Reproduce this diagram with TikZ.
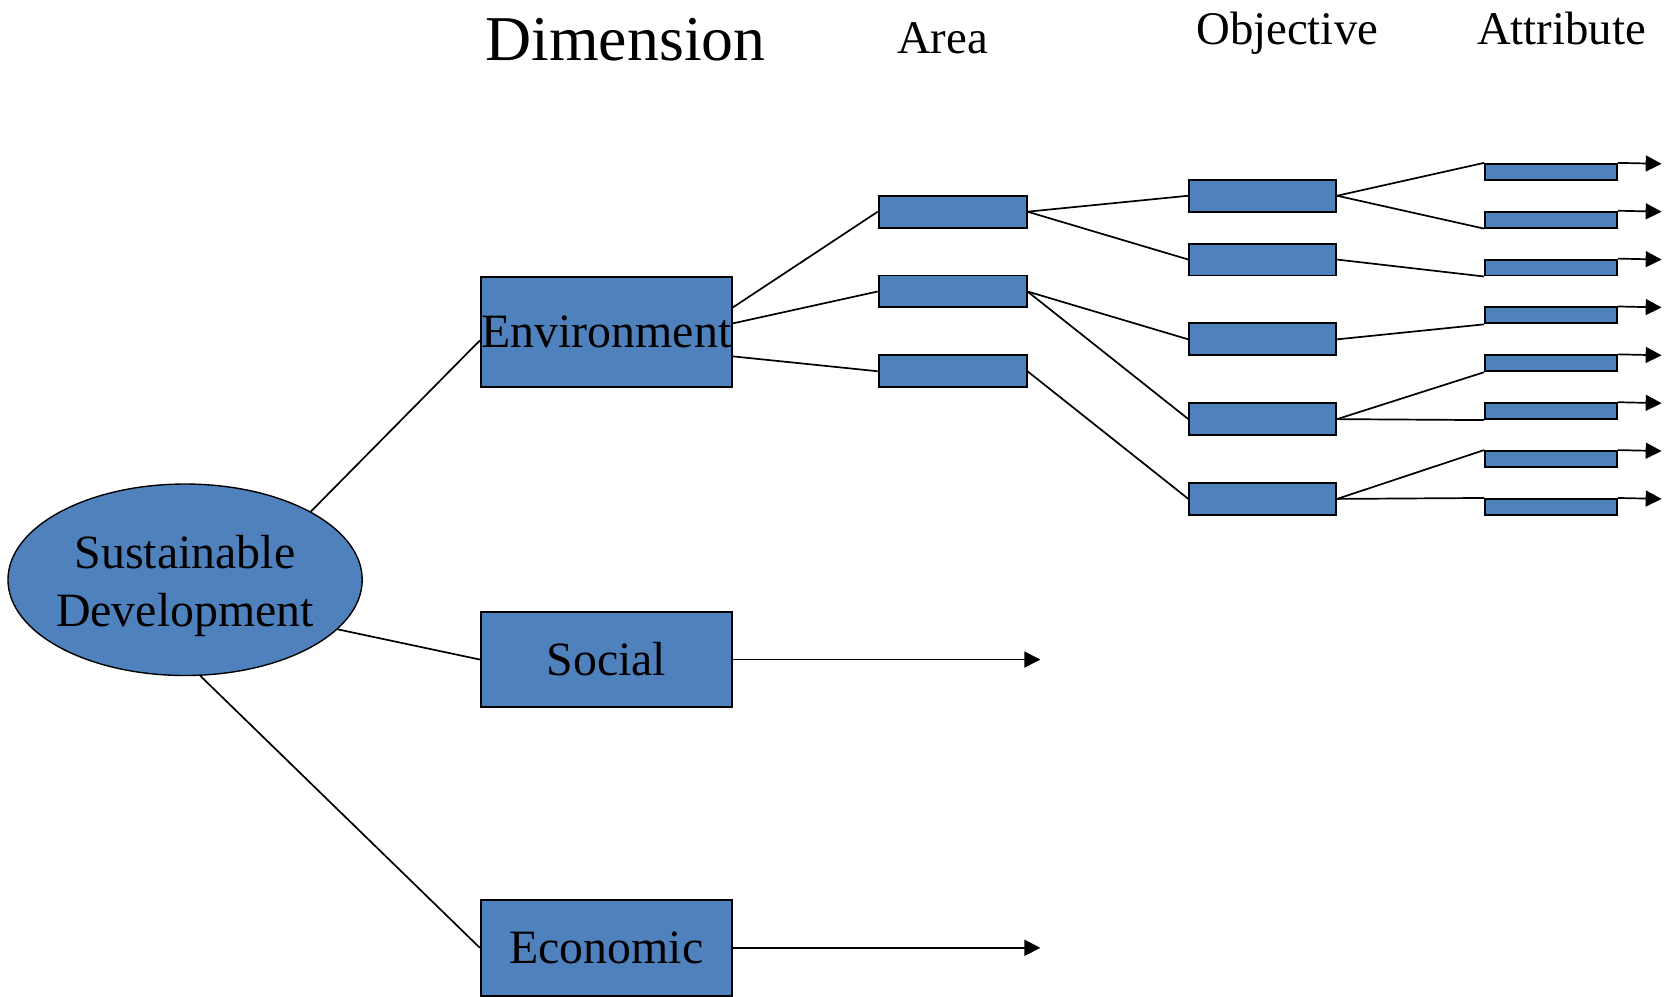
\documentclass[tikz,border=0pt]{standalone}
\usepackage{fontspec}
\setmainfont{Liberation Serif}
\usetikzlibrary{shapes.geometric,arrows.meta}
\definecolor{boxblue}{HTML}{4F81BD}

\begin{document}
\begin{tikzpicture}[x=1pt, y=-1pt,
  bluebox/.style={draw=black, fill=boxblue, line width=1.8pt, inner sep=0pt},
  dimbox/.style={bluebox, minimum width=236pt, font=\fontsize{45}{52}\selectfont},
  areabox/.style={bluebox, minimum width=139pt, minimum height=30pt},
  objbox/.style={bluebox, minimum width=138pt, minimum height=30pt},
  attbox/.style={bluebox, minimum width=124pt, minimum height=15pt},
  head/.style={anchor=base, font=\fontsize{44}{50}\selectfont},
  link/.style={draw=black, line width=1.6pt},
  flow/.style={link, -{Triangle[length=15pt,width=15pt]}}]
\useasboundingbox (0,0) rectangle (1568,937);

% column heads
\node[head, font=\fontsize{60}{66}\selectfont] (hdim) at (588,57) {Dimension};
\node[head] (harea) at (886,50) {Area};
\node[head] (hobj) at (1210,42) {Objective};
\node[head] (hatt) at (1468,42) {Attribute};

% root
\node[ellipse, draw=black, fill=boxblue, line width=1.3pt, inner sep=0pt,
  minimum width=333pt, minimum height=180pt, align=center,
  font=\fontsize{45}{54.6}\selectfont] (sd) at (174,545)
  {\makebox[0pt]{\rule{0pt}{43pt}Sustainable}\\\makebox[0pt]{Development}};

% dimensions
\node[dimbox, minimum height=104pt] (env) at (570,312) {Environment};
\node[dimbox, minimum height=90pt] (soc) at (570,620) {Social};
\node[dimbox, minimum height=90pt] (eco) at (570,891) {Economic};
\coordinate (socend) at (978,620);
\coordinate (ecoend) at (978,891);

% areas
\node[areabox] (a1) at (895.5,199) {};
\node[areabox] (a2) at (895.5,274) {};
\node[areabox] (a3) at (895.5,349) {};

% objectives
\node[objbox] (o1) at (1187,184) {};
\node[objbox] (o2) at (1187,244) {};
\node[objbox] (o3) at (1187,319) {};
\node[objbox] (o4) at (1187,394) {};
\node[objbox] (o5) at (1187,469) {};

% attributes
\node[attbox] (t1) at (1458,161.5) {};
\node[attbox] (t2) at (1458,206.5) {};
\node[attbox] (t3) at (1458,251.5) {};
\node[attbox] (t4) at (1458,296.5) {};
\node[attbox] (t5) at (1458,341.5) {};
\node[attbox] (t6) at (1458,386.5) {};
\node[attbox] (t7) at (1458,431.5) {};
\node[attbox] (t8) at (1458,476.5) {};

% root to dimensions
\draw[link] (sd.north east) -- ([yshift=-8pt]env.west);
\draw[link] (sd.-18) -- (soc.west);
\draw[link] (sd.-81) -- (eco.west);
\draw[flow] (soc.east) -- (socend);
\draw[flow] (eco.east) -- (ecoend);

% environment to areas
\draw[link] ([yshift=23pt]env.east) -- (a1.west);
\draw[link] ([yshift=8pt]env.east) -- (a2.west);
\draw[link] ([yshift=-23pt]env.east) -- (a3.west);

% areas to objectives
\draw[link] (a1.east) -- (o1.west);
\draw[link] (a1.east) -- (o2.west);
\draw[link] (a2.east) -- (o3.west);
\draw[link] (a2.east) -- (o4.west);
\draw[link] (a3.east) -- (o5.west);

% objectives to attributes
\draw[link] (o1.east) -- (t1.north west);
\draw[link] (o1.east) -- (t2.south west);
\draw[link] (o2.east) -- (t3.south west);
\draw[link] (o3.east) -- (t4.south west);
\draw[link] (o4.east) -- (t5.south west);
\draw[link] (o4.east) -- (t6.south west);
\draw[link] (o5.east) -- (t7.north west);
\draw[link] (o5.east) -- (t8.north west);

% attribute outputs
\coordinate (e1) at (1562,154);
\coordinate (e2) at (1562,199);
\coordinate (e3) at (1562,244);
\coordinate (e4) at (1562,289);
\coordinate (e5) at (1562,334);
\coordinate (e6) at (1562,379);
\coordinate (e7) at (1562,424);
\coordinate (e8) at (1562,469);
\draw[flow] (t1.north east) -- (e1);
\draw[flow] (t2.north east) -- (e2);
\draw[flow] (t3.north east) -- (e3);
\draw[flow] (t4.north east) -- (e4);
\draw[flow] (t5.north east) -- (e5);
\draw[flow] (t6.north east) -- (e6);
\draw[flow] (t7.north east) -- (e7);
\draw[flow] (t8.north east) -- (e8);
\end{tikzpicture}
\end{document}
